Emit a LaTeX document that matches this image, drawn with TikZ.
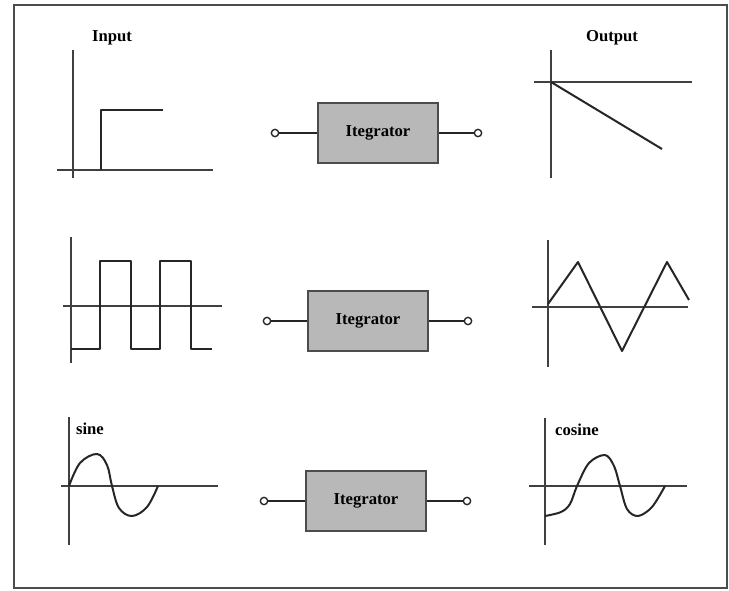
\documentclass[tikz,border=0pt]{standalone}
\usepackage{fontspec}
\setmainfont{Liberation Serif}
\begin{document}
\begin{tikzpicture}[x=0.75pt,y=-0.75pt,
  axis/.style={draw=black!75, line width=0.9pt},
  sig/.style={draw=black!85, line width=1.5pt, line join=round},
  integ/.style={draw=black!70, line width=1pt, fill=black!28, minimum width=90pt, minimum height=45pt, inner sep=0pt, font=\fontsize{12.5}{14}\selectfont\bfseries},
  term/.style={circle, draw=black!85, line width=1pt, fill=white, minimum size=5.5pt, inner sep=0pt},
  wire/.style={draw=black!85, line width=1pt},
  lbl/.style={font=\fontsize{12.5}{14}\selectfont\bfseries, inner sep=0pt}]
\useasboundingbox (0,0) rectangle (729,590);
\fill[white] (0,0) rectangle (729,590);
\draw[black!70, line width=1pt] (14,5) rectangle (727,588);

% ---------- Row 1 ----------
\node[lbl] (lin) at (112,38) {Input};
\node[lbl] (lout) at (612,38) {Output};
\draw[axis] (73,50) -- (73,178);
\draw[axis] (57,170) -- (213,170);
\draw[sig] (101,170) -- (101,110) -- (163,110);

\node[integ] (b1) at (378,133) {Itegrator};
\node[term] (t1a) at (275,133) {};
\node[term] (t1b) at (478,133) {};
\draw[wire] (t1a) -- (b1);
\draw[wire] (b1) -- (t1b);

\draw[axis] (551,50) -- (551,178);
\draw[axis] (534,82) -- (692,82);
\draw[sig] (551,82) -- (662,149);

% ---------- Row 2 ----------
\draw[axis] (71,237) -- (71,363);
\draw[axis] (63,306) -- (222,306);
\draw[sig] (71,349) -- (100,349) -- (100,261) -- (131,261) -- (131,349) -- (160,349) -- (160,261) -- (191,261) -- (191,349) -- (212,349);

\node[integ] (b2) at (368,321) {Itegrator};
\node[term] (t2a) at (267,321) {};
\node[term] (t2b) at (468,321) {};
\draw[wire] (t2a) -- (b2);
\draw[wire] (b2) -- (t2b);

\draw[axis] (548,240) -- (548,367);
\draw[axis] (532,307) -- (688,307);
\draw[sig] (548,304) -- (578,262) -- (622,351) -- (667,262) -- (689,300);

% ---------- Row 3 ----------
\draw[axis] (69,417) -- (69,545);
\draw[axis] (61,486) -- (218,486);
\node[lbl] (lsin) at (90,429) {sine};
\draw[sig] plot[smooth, tension=0.6] coordinates {(69,486) (80,463) (97,454) (107,465) (112,486) (119,508) (132,516) (147,507) (158,486)};

\node[integ] (b3) at (366,501) {Itegrator};
\node[term] (t3a) at (264,501) {};
\node[term] (t3b) at (467,501) {};
\draw[wire] (t3a) -- (b3);
\draw[wire] (b3) -- (t3b);

\draw[axis] (545,418) -- (545,545);
\draw[axis] (529,486) -- (687,486);
\node[lbl] (lcos) at (577,430) {cosine};
\draw[sig] plot[smooth, tension=0.55] coordinates {(545,516) (561,512) (570,504) (577,486) (589,463) (605,455) (614,466) (620,486) (627,509) (638,516) (652,507) (665,486)};
\end{tikzpicture}
\end{document}
